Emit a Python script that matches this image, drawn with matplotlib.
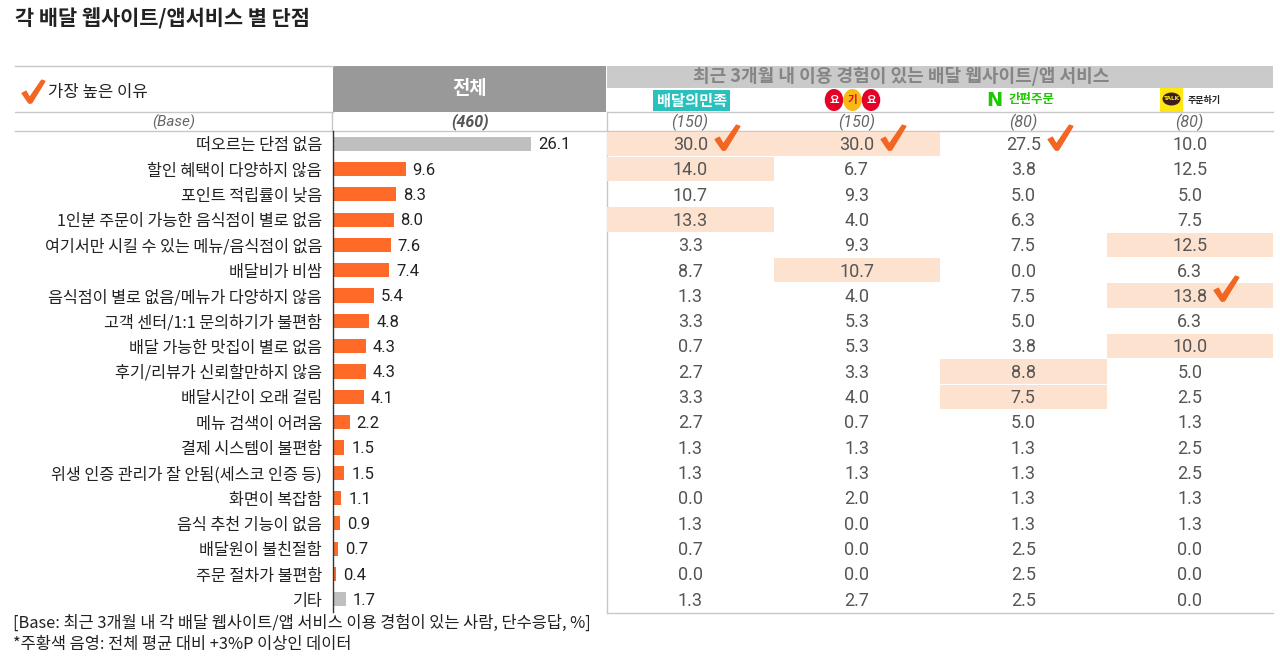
import matplotlib
matplotlib.use("Agg")
import matplotlib.pyplot as plt
from matplotlib.patches import Rectangle, Ellipse
from matplotlib.path import Path
import numpy as np

plt.rcParams["font.family"] = ["Noto Sans CJK KR", "DejaVu Sans"]
plt.rcParams["axes.unicode_minus"] = False

# ---------------------------------------------------------------------------
# 데이터
# ---------------------------------------------------------------------------
reasons = [
    "떠오르는 단점 없음", "할인 혜택이 다양하지 않음", "포인트 적립률이 낮음",
    "1인분 주문이 가능한 음식점이 별로 없음", "여기서만 시킬 수 있는 메뉴/음식점이 없음",
    "배달비가 비쌈", "음식점이 별로 없음/메뉴가 다양하지 않음", "고객 센터/1:1 문의하기가 불편함",
    "배달 가능한 맛집이 별로 없음", "후기/리뷰가 신뢰할만하지 않음", "배달시간이 오래 걸림",
    "메뉴 검색이 어려움", "결제 시스템이 불편함", "위생 인증 관리가 잘 안됨(세스코 인증 등)",
    "화면이 복잡함", "음식 추천 기능이 없음", "배달원이 불친절함", "주문 절차가 불편함", "기타",
]
total = [26.1, 9.6, 8.3, 8.0, 7.6, 7.4, 5.4, 4.8, 4.3, 4.3, 4.1, 2.2, 1.5, 1.5, 1.1, 0.9, 0.7, 0.4, 1.7]
baemin = [30.0, 14.0, 10.7, 13.3, 3.3, 8.7, 1.3, 3.3, 0.7, 2.7, 3.3, 2.7, 1.3, 1.3, 0.0, 1.3, 0.7, 0.0, 1.3]
yogiyo = [30.0, 6.7, 9.3, 4.0, 9.3, 10.7, 4.0, 5.3, 5.3, 3.3, 4.0, 0.7, 1.3, 1.3, 2.0, 0.0, 0.0, 0.0, 2.7]
naver = [27.5, 3.8, 5.0, 6.3, 7.5, 0.0, 7.5, 5.0, 3.8, 8.8, 7.5, 5.0, 1.3, 1.3, 1.3, 1.3, 2.5, 2.5, 2.5]
kakao = [10.0, 12.5, 5.0, 7.5, 12.5, 6.3, 13.8, 6.3, 10.0, 5.0, 2.5, 1.3, 2.5, 2.5, 1.3, 1.3, 0.0, 0.0, 0.0]
gray_rows = ["떠오르는 단점 없음", "기타"]
base_total = "(460)"
base_apps = ["(150)", "(150)", "(80)", "(80)"]

ORANGE = "#FF6A28"
CHECK = "#F26522"
GRAY_BAR = "#BFBFBF"
SHADE = "#FDE2CF"
LINE = "#C8C8C8"
NUM_FONT = ["Roboto", "DejaVu Sans"]

# 손글씨 느낌의 체크 표시(마커용 경로)
_ck = np.array([(0.00, 0.42), (0.17, 0.51), (0.33, 0.23), (0.86, 1.00), (1.00, 0.95),
                (0.42, 0.00), (0.32, -0.02), (0.26, 0.04), (0.00, 0.42)])
_ck = _ck - [0.5, 0.5]
CHECK_MARK = Path(_ck, [Path.MOVETO] + [Path.LINETO] * (len(_ck) - 2) + [Path.CLOSEPOLY])

W, H = 1280, 659
fig = plt.figure(figsize=(W / 100, H / 100), dpi=100)

# 배경 캔버스(픽셀 좌표) — 머리글, 구분선, 로고
cv = fig.add_axes([0, 0, 1, 1], zorder=0)
cv.set_xlim(0, W); cv.set_ylim(H, 0); cv.axis("off")

cv.text(15, 19, "각 배달 웹사이트/앱서비스 별 단점", fontsize=15, fontweight="bold",
        color="#222222", va="center", ha="left")

cv.add_patch(Rectangle((333, 66), 273, 46, color="#999999", lw=0))
cv.text(470, 89, "전체", color="white", fontsize=13.5, fontweight="bold", ha="center", va="center")
cv.add_patch(Rectangle((607, 66), 666, 22, color="#CACACA", lw=0))
cv.text(901, 76.5, "최근 3개월 내 이용 경험이 있는 배달 웹사이트/앱 서비스", color="#858585",
        fontsize=13, fontweight="bold", ha="center", va="center")

for y, x0, x1 in [(66, 15, 333), (112, 15, 333), (112, 607, 1273), (131, 15, 1273), (613, 607, 1273)]:
    cv.plot([x0, x1], [y, y], color=LINE, lw=1)
cv.plot([332, 332], [112, 131], color=LINE, lw=1)
cv.plot([607, 607], [112, 613], color=LINE, lw=1)

cv.plot([33], [91], marker=CHECK_MARK, markersize=17, color=CHECK, linestyle="none")
cv.text(48, 93, "가장 높은 이유", fontsize=12, color="#222222", ha="left", va="center")

# 로고(근사)
cv.add_patch(Rectangle((653, 90), 77, 21, color="#2AC1BC", lw=0))
cv.text(691.5, 100.5, "배달의민족", color="white", fontsize=11, fontweight="bold", ha="center", va="center")
for cx, col in [(834, "#E60028"), (852.5, "#F9B915"), (871, "#E60028")]:
    cv.add_patch(Ellipse((cx, 100), 18.5, 22, color=col, lw=0))
for cx, ch, tc in [(834, "요", "white"), (852.5, "기", "#E60028"), (871, "요", "white")]:
    cv.text(cx, 100, ch, color=tc, fontsize=7.5, fontweight="bold", ha="center", va="center")
cv.text(994.5, 100, "N", color="#1EC800", fontsize=14, fontweight="bold", ha="center", va="center",
        family=["DejaVu Sans"])
cv.text(1009, 100, "간편주문", color="#1EC800", fontsize=9, fontweight="bold", ha="left", va="center")
cv.add_patch(Rectangle((1160, 88), 23, 24, color="#FFE812", lw=0))
cv.add_patch(Ellipse((1171.5, 99), 18, 13, color="#3C1E1E", lw=0))
cv.text(1171.5, 99, "TALK", color="#FFE812", fontsize=4.2, fontweight="bold", ha="center", va="center",
        family=["DejaVu Sans"])
cv.text(1188, 100, "주문하기", color="#222222", fontsize=6.5, fontweight="bold", ha="left", va="center")

# Base 행
cv.text(174, 122, "(Base)", fontsize=11, style="italic", color="#666666", ha="center", va="center",
        family=NUM_FONT)
cv.text(470, 122, base_total, fontsize=11.5, style="italic", color="#555555", ha="center", va="center",
        family=NUM_FONT, fontweight="bold")
for i, b in enumerate(base_apps):
    cv.text(690 + i * 166.5, 122, b, fontsize=11.5, style="italic", color="#666666",
            ha="center", va="center", family=NUM_FONT)

cv.text(13, 623, "[Base: 최근 3개월 내 각 배달 웹사이트/앱 서비스 이용 경험이 있는 사람, 단수응답, %]",
        fontsize=11.8, color="#222222", ha="left", va="center")
cv.text(13, 644, "*주황색 음영: 전체 평균 대비 +3%P 이상인 데이터",
        fontsize=11.8, color="#222222", ha="left", va="center")

# ---------------------------------------------------------------------------
# 전체 막대
# ---------------------------------------------------------------------------
n = len(reasons)
top, bot = 131, 612
rect_y = 1 - bot / H
rect_h = (bot - top) / H
ax = fig.add_axes([333 / W, rect_y, (607 - 333) / W, rect_h], zorder=2)
ax.patch.set_alpha(0)
ypos = np.arange(n)
colors = [GRAY_BAR if r in gray_rows else ORANGE for r in reasons]
ax.barh(ypos, total, height=0.56, color=colors, lw=0)
for y, v in zip(ypos, total):
    ax.text(v + 0.9, y + 0.05, f"{v:.1f}", va="center", ha="left", fontsize=12,
            color="#222222", family=NUM_FONT)
ax.set_xlim(0, 36.1)
ax.set_ylim(n - 0.5, -0.5)
ax.set_yticks(ypos)
ax.set_yticklabels(reasons, fontsize=11.7, color="#222222")
ax.tick_params(axis="y", length=0, pad=8)
ax.set_xticks([])
for s in ("top", "right", "bottom"):
    ax.spines[s].set_visible(False)
ax.spines["left"].set_color("#333333")
ax.spines["left"].set_linewidth(1)

# ---------------------------------------------------------------------------
# 앱별 표
# ---------------------------------------------------------------------------
at = fig.add_axes([607 / W, rect_y, (1273 - 607) / W, rect_h], zorder=2)
at.patch.set_alpha(0)
at.set_xlim(-0.5, 3.5)
at.set_ylim(n - 0.5, -0.5)
at.axis("off")
apps = [baemin, yogiyo, naver, kakao]
for c, vals in enumerate(apps):
    vals = np.array(vals)
    best = int(np.argmax(vals))
    for r, v in enumerate(vals):
        if v - total[r] >= 2.95:
            at.add_patch(Rectangle((c - 0.5, r - 0.48), 1, 0.96, color=SHADE, lw=0, zorder=1))
        at.text(c, r + 0.05, f"{v:.1f}", ha="center", va="center", fontsize=13,
                color="#555555", family=NUM_FONT, zorder=3)
    at.plot([c + 0.22], [best - 0.28], marker=CHECK_MARK, markersize=18.5, color=CHECK,
            linestyle="none", zorder=4, clip_on=False)

fig.savefig("out.png", dpi=100, facecolor="white")
